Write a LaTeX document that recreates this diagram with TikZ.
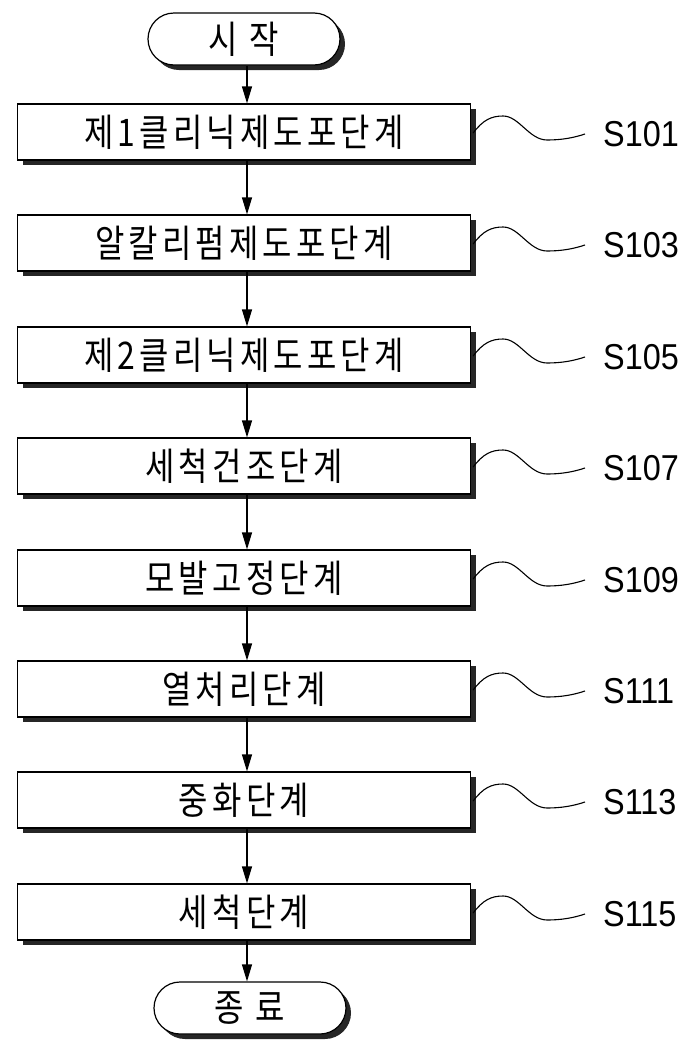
\documentclass[tikz,border=0pt]{standalone}
\usepackage{fontspec}
\newfontfamily\kfont{Noto Sans CJK KR}[FakeStretch=0.84,LetterSpace=11]
\newfontfamily\lfont{Liberation Sans}[FakeStretch=0.9]
\usepackage{tikz}
\usetikzlibrary{arrows.meta,shapes.misc,shadows,calc}

\tikzset{
  stepbox/.style={draw, line width=1.2pt, fill=white, minimum width=453pt, minimum height=56pt, inner sep=0pt,
    font={\kfont\fontsize{38}{42}\selectfont},
    drop shadow={shadow xshift=5pt, shadow yshift=-5pt, fill=black, opacity=.85}},
  termbox/.style={stepbox, rounded rectangle, minimum width=192pt, minimum height=52pt},
  steplabel/.style={anchor=west, inner sep=0pt, font={\lfont\fontsize{36}{40}\selectfont}},
  flow/.style={-{Triangle[length=17pt,width=10pt]}, line width=1.2pt}
}

%% wavy leader from a step box to its label
\newcommand{\squig}[2]{\draw[line width=1.1pt] ([shift={(2,1)}]#1.east)
  .. controls +(10,-13) and +(-12,0) .. ([shift={(32,-16)}]#1.east)
  .. controls +(16,0) and +(-18,0) .. ([shift={(76,8)}]#1.east)
  .. controls +(14,0) and +(-12,4) .. ([xshift=-18pt]#2.west);}

\begin{document}
\begin{tikzpicture}[x=1pt,y=-1pt]
\fill[white] (0,0) rectangle (696,1047);
\useasboundingbox (0,0) rectangle (696,1047);

\node[termbox] (st) at (244,39) {시 작};

\node[stepbox] (b1) at (244,132) {제1클리닉제도포단계};
\node[stepbox] (b2) at (244,243) {알칼리펌제도포단계};
\node[stepbox] (b3) at (244,355) {제2클리닉제도포단계};
\node[stepbox] (b4) at (244,466) {세척건조단계};
\node[stepbox] (b5) at (244,578) {모발고정단계};
\node[stepbox] (b6) at (244,689) {열처리단계};
\node[stepbox] (b7) at (244,800) {중화단계};
\node[stepbox] (b8) at (244,912) {세척단계};

\node[termbox] (en) at (250,1008) {종 료};

%% step numbers
\node[steplabel] (l1) at (603,134) {S101};
\node[steplabel] (l2) at (603,245) {S103};
\node[steplabel] (l3) at (603,357) {S105};
\node[steplabel] (l4) at (603,468) {S107};
\node[steplabel] (l5) at (603,580) {S109};
\node[steplabel] (l6) at (603,691) {S111};
\node[steplabel] (l7) at (603,802) {S113};
\node[steplabel] (l8) at (603,914) {S115};

\squig{b1}{l1}
\squig{b2}{l2}
\squig{b3}{l3}
\squig{b4}{l4}
\squig{b5}{l5}
\squig{b6}{l6}
\squig{b7}{l7}
\squig{b8}{l8}

%% flow arrows
\draw[flow] ([xshift=3pt]st.south) -- ([xshift=3pt]b1.north);
\draw[flow] ([xshift=3pt]b1.south) -- ([xshift=3pt]b2.north);
\draw[flow] ([xshift=3pt]b2.south) -- ([xshift=3pt]b3.north);
\draw[flow] ([xshift=3pt]b3.south) -- ([xshift=3pt]b4.north);
\draw[flow] ([xshift=3pt]b4.south) -- ([xshift=3pt]b5.north);
\draw[flow] ([xshift=3pt]b5.south) -- ([xshift=3pt]b6.north);
\draw[flow] ([xshift=3pt]b6.south) -- ([xshift=3pt]b7.north);
\draw[flow] ([xshift=3pt]b7.south) -- ([xshift=3pt]b8.north);
\draw[flow] ([xshift=3pt]b8.south) -- ([xshift=3pt]b8.south |- en.north);

\end{tikzpicture}
\end{document}
